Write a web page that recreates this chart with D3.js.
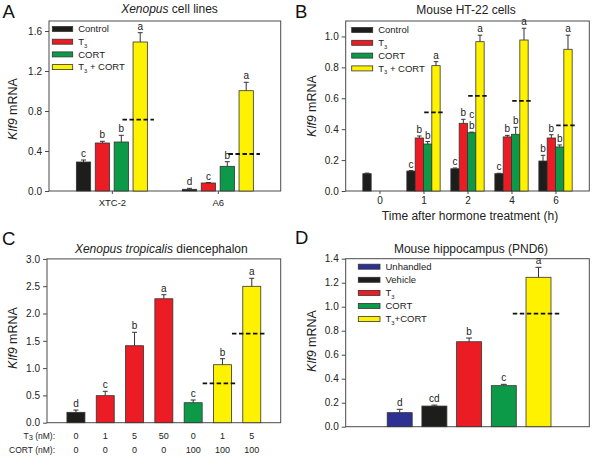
<!DOCTYPE html>
<html><head><meta charset="utf-8">
<script src="https://cdn.jsdelivr.net/npm/d3@7"></script>
<style>
body{margin:0;background:#fff;}
svg{display:block;font-family:"Liberation Sans",Arial,sans-serif;}
</style></head><body>
<script>
// ---------------- data ----------------
const treatA = ["Control","T3","CORT","T3 + CORT"];
const groupsA = ["XTC-2","A6"];
const meanA = [[0.29,0.48,0.49,1.49],[0.017,0.08,0.247,1.003]];
const errA  = [[0.02,0.017,0.067,0.093],[0.01,0.005,0.046,0.084]];
const letA  = [["c","b","b","a"],["d","c","b","a"]];
const dashA = [0.713,0.37];
const ticksA = [0,0.4,0.8,1.2,1.6];

const treatB = ["Control","T3","CORT","T3 + CORT"];
const timesB = ["0","1","2","4","6"];
const meanB = [[0.112,null,null,null],[0.129,0.343,0.304,0.811],[0.144,0.438,0.377,0.966],[0.112,0.35,0.367,0.977],[0.194,0.343,0.285,0.917]];
const errB  = [[0.004,0,0,0],[0.003,0.013,0.016,0.026],[0.005,0.026,0.004,0.042],[0.003,0.01,0.045,0.076],[0.037,0.021,0.013,0.091]];
const letB  = [["","","",""],["c","b","b","a"],["c","b","bc","a"],["c","b","b","a"],["b","b","b","a"]];
const dashB = [null,0.509,0.615,0.583,0.425];
const ticksB = [0,0.2,0.4,0.6,0.8,1.0];

const t3C   = ["0","1","5","50","0","1","5"];
const cortC = ["0","0","0","0","100","100","100"];
const treatC = ["Control","T3","T3","T3","CORT","T3 + CORT","T3 + CORT"];
const meanC = [0.19,0.495,1.41,2.27,0.366,1.062,2.498];
const errC  = [0.042,0.08,0.246,0.074,0.05,0.11,0.147];
const letC  = ["d","c","b","a","c","b","a"];
const dashC = [null,null,null,null,null,0.721,1.63];
const ticksC = [0,0.5,1.0,1.5,2.0,2.5,3.0];

const groupsD = ["Unhandled","Vehicle","T3","CORT","T3+CORT"];
const meanD = [0.117,0.172,0.708,0.342,1.245];
const errD  = [0.028,0.008,0.031,0.011,0.083];
const letD  = ["d","cd","b","c","a"];
const dashD = [null,null,null,null,0.942];
const ticksD = [0,0.2,0.4,0.6,0.8,1.0,1.2,1.4];

const colorOf = {"Control":"#1d1d1b","T3":"#ec1c24","CORT":"#0d9a48","T3 + CORT":"#fff200","T3+CORT":"#fff200","Unhandled":"#2e3192","Vehicle":"#1d1d1b"};

// ---------------- helpers ----------------
const svg = d3.select("body").append("svg").attr("width",593).attr("height",457);
const TXT = "#222";

function rich(t, s, fs){
  const parts = s.split(/(T3)/).filter(p=>p!=="");
  let pend = 0;
  parts.forEach(p=>{
    if(p==="T3"){
      const a = t.append("tspan").text("T"); if(pend){a.attr("dy",pend);pend=0;}
      t.append("tspan").attr("font-size",fs*0.62).attr("dy",fs*0.28).text("3");
      pend = -fs*0.28;
    } else {
      const a = t.append("tspan").text(p); if(pend){a.attr("dy",pend);pend=0;}
    }
  });
}
function frame(g,x0,x1,y0,y1){
  g.append("rect").attr("x",x0).attr("y",y0).attr("width",x1-x0).attr("height",y1-y0)
   .attr("fill","none").attr("stroke","#4a4a4a").attr("stroke-width",1);
}
function yAxis(g,y,x0,ticks){
  const ax = g.append("g").attr("transform",`translate(${x0},0)`)
    .call(d3.axisLeft(y).tickValues(ticks).tickSize(4).tickPadding(3).tickFormat(d3.format(".1f")));
  ax.select(".domain").remove();
  ax.selectAll("line").attr("stroke","#4a4a4a");
  ax.selectAll("text").attr("font-size",10).attr("fill",TXT).attr("font-family","Liberation Sans, Arial, sans-serif");
}
function yLabel(g,x,y){
  const t = g.append("text").attr("transform",`translate(${x},${y}) rotate(-90)`)
    .attr("text-anchor","middle").attr("font-size",12.5).attr("fill",TXT);
  t.append("tspan").attr("font-style","italic").text("Klf9");
  t.append("tspan").text(" mRNA");
}
function title(g,x,y,parts){
  const t = g.append("text").attr("x",x).attr("y",y).attr("text-anchor","middle").attr("font-size",12).attr("fill",TXT);
  parts.forEach(p=>t.append("tspan").attr("font-style",p[1]?"italic":"normal").text(p[0]));
}
function panelLetter(g,x,y,s){
  g.append("text").attr("x",x).attr("y",y).attr("font-size",18.5).attr("fill","#111").text(s);
}
function bar(g,y,xl,w,mean,err,col,letter,capW,stack){
  if(mean==null) return;
  g.append("rect").attr("x",xl).attr("y",y(mean)).attr("width",w).attr("height",y(0)-y(mean))
    .attr("fill",col).attr("stroke","#333").attr("stroke-width",0.8);
  const cx = xl+w/2;
  let top = y(mean);
  if(err>0){
    top = y(mean+err);
    g.append("line").attr("x1",cx).attr("x2",cx).attr("y1",y(mean)).attr("y2",top).attr("stroke","#333").attr("stroke-width",1);
    g.append("line").attr("x1",cx-capW/2).attr("x2",cx+capW/2).attr("y1",top).attr("y2",top).attr("stroke","#333").attr("stroke-width",1);
  }
  if(letter){
    if(stack && letter.length>1){
      letter.split("").forEach((ch,i)=>{
        g.append("text").attr("x",cx).attr("y",top-3-i*10.7).attr("text-anchor","middle").attr("font-size",10).attr("fill",TXT).text(ch);
      });
    } else {
      g.append("text").attr("x",cx).attr("y",top-3).attr("text-anchor","middle").attr("font-size",10).attr("fill",TXT).text(letter);
    }
  }
}
function dash(g,y,cx,w,v){
  if(v==null) return;
  g.append("line").attr("x1",cx-w/2).attr("x2",cx+w/2).attr("y1",y(v)).attr("y2",y(v))
    .attr("stroke","#111").attr("stroke-width",1.8).attr("stroke-dasharray","4.5,2.5");
}
function legend(g,items,x,y0,dy,swW,swH,fs){
  items.forEach((it,i)=>{
    const yy = y0+i*dy;
    g.append("rect").attr("x",x).attr("y",yy-swH/2).attr("width",swW).attr("height",swH)
      .attr("fill",colorOf[it]).attr("stroke","#333").attr("stroke-width",0.8);
    const t = g.append("text").attr("x",x+swW+5.5).attr("y",yy+fs*0.35).attr("font-size",fs).attr("fill",TXT);
    rich(t,it,fs);
  });
}

// ---------------- Panel A ----------------
{
  const g = svg.append("g");
  const X0=49, X1=280.7, Y0=21, Y1=191;
  const y = d3.scaleLinear().domain([0,1.7]).range([Y1,Y0]);
  const gx = d3.scalePoint().domain(groupsA).range([X0,X1]).padding(0.593);
  const ix = d3.scaleBand().domain(treatA).range([-37.8,37.8]).paddingInner(0.243).paddingOuter(0.1215);
  frame(g,X0,X1,Y0,Y1);
  yAxis(g,y,X0,ticksA);
  const xa = g.append("g").attr("transform",`translate(0,${Y1})`).call(d3.axisBottom(gx).tickSize(3).tickPadding(5));
  xa.select(".domain").remove();
  xa.selectAll("line").attr("stroke","#4a4a4a");
  xa.selectAll("text").attr("font-size",9.5).attr("fill",TXT).attr("font-family","Liberation Sans, Arial, sans-serif");
  groupsA.forEach((gr,gi)=>{
    treatA.forEach((t,ti)=>{
      bar(g,y,gx(gr)+ix(t),ix.bandwidth(),meanA[gi][ti],errA[gi][ti],colorOf[t],letA[gi][ti],5,false);
    });
    const yc = gx(gr)+ix("T3 + CORT")+ix.bandwidth()/2 - 2;
    dash(g,y,yc,ix.bandwidth()*2.2,dashA[gi]);
  });
  legend(g,treatA,52.3,29,12.7,20.4,5,9.5);
  yLabel(g,17,109);
  title(g,169.5,13,[["Xenopus",true],[" cell lines",false]]);
  panelLetter(g,2.5,18,"A");
}

// ---------------- Panel B ----------------
{
  const g = svg.append("g");
  const X0=345.7, X1=589.3, Y0=21, Y1=191;
  const y = d3.scaleLinear().domain([0,1.1]).range([Y1,Y0]);
  const gx = d3.scalePoint().domain(timesB).range([X0,X1]).padding(0.768);
  const ix = d3.scaleBand().domain(treatB).range([-16.65,16.65]).padding(0);
  frame(g,X0,X1,Y0,Y1);
  yAxis(g,y,X0,ticksB);
  const xa = g.append("g").attr("transform",`translate(0,${Y1})`).call(d3.axisBottom(gx).tickSize(3).tickPadding(3));
  xa.select(".domain").remove();
  xa.selectAll("line").attr("stroke","#4a4a4a");
  xa.selectAll("text").attr("font-size",10).attr("fill",TXT).attr("font-family","Liberation Sans, Arial, sans-serif");
  timesB.forEach((tm,gi)=>{
    treatB.forEach((t,ti)=>{
      bar(g,y,gx(tm)+ix(t),ix.bandwidth(),meanB[gi][ti],errB[gi][ti],colorOf[t],letB[gi][ti],4.5,true);
    });
    const yc = gx(tm)+ix("T3 + CORT")+ix.bandwidth()/2 - 2;
    dash(g,y,yc,ix.bandwidth()*2.35,dashB[gi]);
  });
  legend(g,treatB,351.7,30,12.8,21,5,9.5);
  yLabel(g,316,106);
  title(g,466,14,[["Mouse HT-22 cells",false]]);
  g.append("text").attr("x",470).attr("y",219.5).attr("text-anchor","middle").attr("font-size",12).attr("fill",TXT)
    .text("Time after hormone treatment (h)");
  panelLetter(g,295,18,"B");
}

// ---------------- Panel C ----------------
{
  const g = svg.append("g");
  const X0=47, X1=280.7, Y0=258.9, Y1=422.7;
  const idx = d3.range(meanC.length);
  const y = d3.scaleLinear().domain([0,3.0]).range([Y1,Y0]);
  const x = d3.scaleBand().domain(idx).range([X0,X1]).paddingInner(0.386).paddingOuter(0.68);
  frame(g,X0,X1,Y0,Y1);
  yAxis(g,y,X0,ticksC);
  idx.forEach(i=>{
    bar(g,y,x(i),x.bandwidth(),meanC[i],errC[i],colorOf[treatC[i]],letC[i],5,false);
    dash(g,y,x(i)+x.bandwidth()/2-3,x.bandwidth()*1.87,dashC[i]);
    g.append("text").attr("x",x(i)+x.bandwidth()/2).attr("y",438.5).attr("text-anchor","middle").attr("font-size",9).attr("fill",TXT).text(t3C[i]);
    g.append("text").attr("x",x(i)+x.bandwidth()/2).attr("y",452.8).attr("text-anchor","middle").attr("font-size",9).attr("fill",TXT).text(cortC[i]);
  });
  const r1 = g.append("text").attr("x",55).attr("y",438.5).attr("text-anchor","end").attr("font-size",8.5).attr("fill",TXT);
  r1.append("tspan").text("T");
  r1.append("tspan").attr("font-size",7.5).attr("dy",1.5).text("3");
  r1.append("tspan").attr("dy",-1.5).text(" (nM):");
  g.append("text").attr("x",55).attr("y",452.8).attr("text-anchor","end").attr("font-size",8.5).attr("fill",TXT).text("CORT (nM):");
  yLabel(g,17,338);
  title(g,161.3,252.5,[["Xenopus tropicalis",true],[" diencephalon",false]]);
  panelLetter(g,2,245,"C");
}

// ---------------- Panel D ----------------
{
  const g = svg.append("g");
  const X0=345.7, X1=589.3, Y0=258.7, Y1=426.7;
  const y = d3.scaleLinear().domain([0,1.4]).range([Y1,Y0]);
  const x = d3.scaleBand().domain(groupsD).range([X0,X1]).paddingInner(0.28).paddingOuter(1.15).align(0.52);
  frame(g,X0,X1,Y0,Y1);
  yAxis(g,y,X0,ticksD);
  groupsD.forEach((gr,i)=>{
    bar(g,y,x(gr),x.bandwidth(),meanD[i],errD[i],colorOf[gr],letD[i],6,false);
    dash(g,y,x(gr)+x.bandwidth()/2-2.5,x.bandwidth()*1.86,dashD[i]);
  });
  legend(g,groupsD,358.3,266.7,13.1,21.7,5,9.5);
  yLabel(g,316,341);
  title(g,471,252.5,[["Mouse hippocampus (PND6)",false]]);
  panelLetter(g,295,243.5,"D");
}
</script>
</body></html>
